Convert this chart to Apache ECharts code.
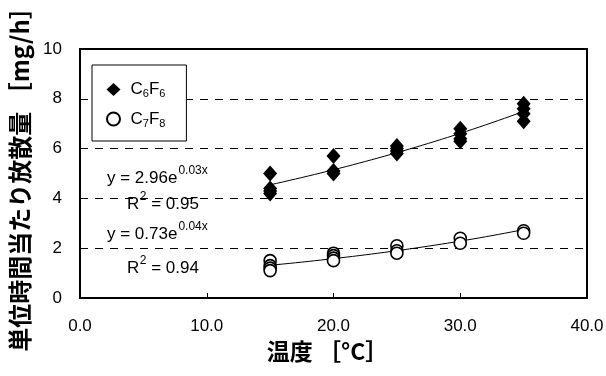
<!DOCTYPE html>
<html>
<head>
<meta charset="utf-8">
<script src="https://cdn.jsdelivr.net/npm/echarts@6/dist/echarts.min.js"></script>
<style>
  html, body { margin: 0; padding: 0; background: #fff; }
  #chart { width: 606px; height: 376px; }
</style>
</head>
<body>
<div id="chart"></div>
<script>
// Emission rate per unit time vs temperature, two compounds
var xTicks = [0, 10, 20, 30, 40];
var yTicks = [0, 2, 4, 6, 8, 10];

var c6f6Temp = [15, 15, 15, 15, 20, 20, 20, 25, 25, 25, 25, 30, 30, 30, 30, 35, 35, 35, 35];
var c6f6Rate = [5.0, 4.4, 4.3, 4.2, 5.7, 5.1, 5.0, 6.1, 6.0, 5.9, 5.8, 6.8, 6.6, 6.4, 6.3, 7.8, 7.6, 7.4, 7.1];

var c7f8Temp = [15, 15, 15, 15, 20, 20, 20, 20, 25, 25, 25, 30, 30, 35, 35];
var c7f8Rate = [1.5, 1.3, 1.2, 1.1, 1.8, 1.7, 1.6, 1.5, 2.1, 1.9, 1.8, 2.4, 2.2, 2.7, 2.6];

// Fitted-curve captions: [main text, superscript]
var eq6 = ['y = 2.96e', '0.03x'];
var r2c6 = ['R', '2', ' = 0.95'];
var eq7 = ['y = 0.73e', '0.04x'];
var r2c7 = ['R', '2', ' = 0.94'];

function pairs(xs, ys) {
  return xs.map(function (x, i) { return [x, ys[i]]; });
}

// Exponential least-squares fit (ln y = ln a + b x), evaluated across the measured range
function expTrend(xs, ys) {
  var n = xs.length, sx = 0, sy = 0, sxx = 0, sxy = 0;
  for (var i = 0; i < n; i++) {
    var ly = Math.log(ys[i]);
    sx += xs[i]; sy += ly; sxx += xs[i] * xs[i]; sxy += xs[i] * ly;
  }
  var b = (n * sxy - sx * sy) / (n * sxx - sx * sx);
  var a = Math.exp((sy - b * sx) / n);
  var lo = Math.min.apply(null, xs), hi = Math.max.apply(null, xs);
  var pts = [];
  for (var k = 0; k <= 40; k++) {
    var x = lo + (hi - lo) * k / 40;
    pts.push([x, a * Math.exp(b * x)]);
  }
  return pts;
}

var sansFont = '"Liberation Sans", Arial, sans-serif';
var cjkFont = '"Noto Sans CJK JP", "Liberation Sans", sans-serif';

function txt(x, y, s, size) {
  return {
    type: 'text', x: x, y: y, z: 10,
    style: { text: s, font: size + 'px ' + sansFont, fill: '#000', align: 'left', verticalAlign: 'middle' }
  };
}

// Equation with superscript exponent, main text starting at x, cap centre at y
function equation(x, y, parts) {
  var ctx = document.createElement('canvas').getContext('2d');
  ctx.font = '17px ' + sansFont;
  var w = ctx.measureText(parts[0]).width;
  return [txt(x, y, parts[0], 17), txt(x + w + 1, y - 7, parts[1], 12)];
}

function rSquared(x, y, parts) {
  var ctx = document.createElement('canvas').getContext('2d');
  ctx.font = '17px ' + sansFont;
  var w = ctx.measureText(parts[0]).width;
  ctx.font = '12px ' + sansFont;
  var w2 = ctx.measureText(parts[1]).width;
  return [txt(x, y, parts[0], 17), txt(x + w + 0.5, y - 7, parts[1], 12), txt(x + w + w2 + 0.5, y, parts[2], 17)];
}

var chart = echarts.init(document.getElementById('chart'), null, { renderer: 'canvas' });

chart.setOption({
  animation: false,
  backgroundColor: '#fff',
  grid: {
    left: 80, right: 19, top: 49, bottom: 78,
    containLabel: false, outerBoundsMode: 'none',
    show: true, borderColor: '#000', borderWidth: 2, backgroundColor: 'transparent'
  },
  legend: {
    left: 92, top: 65,
    orient: 'vertical',
    padding: [16, 21, 12, 14],
    itemGap: 11,
    itemWidth: 14, itemHeight: 13,
    borderColor: '#000', borderWidth: 1,
    backgroundColor: '#fff',
    data: ['C6F6', 'C7F8'],
    formatter: function (name) {
      return name.replace(/(\d)/g, '{sub|$1}').replace(/([A-Z])/g, '{m|$1}');
    },
    textStyle: {
      fontFamily: sansFont, fontSize: 17, color: '#000', padding: [0, 0, 0, 5],
      rich: {
        m: { fontFamily: sansFont, fontSize: 17, color: '#000' },
        sub: { fontFamily: sansFont, fontSize: 11, color: '#000', padding: [9, 0, 0, 0] }
      }
    }
  },
  xAxis: {
    type: 'value', min: 0, max: 40, interval: 10,
    name: '温度 ［°C］', nameLocation: 'middle', nameGap: 41,
    nameTextStyle: { fontFamily: cjkFont, fontSize: 23, fontWeight: 'bold', color: '#000', padding: [0, 12, 0, 0] },
    axisLine: { show: true, lineStyle: { color: '#000', width: 2 } },
    axisTick: { show: true, inside: true, length: 5, lineStyle: { color: '#000' } },
    splitLine: { show: false },
    axisLabel: {
      margin: 20, fontFamily: sansFont, fontSize: 17, color: '#000',
      formatter: function (v) { return xTicks.indexOf(v) >= 0 ? v.toFixed(1) : ''; }
    }
  },
  yAxis: {
    type: 'value', min: 0, max: 10, interval: 2,
    name: '単位時間当たり放散量 ［mg/h］', nameLocation: 'middle', nameGap: 45, nameRotate: 90,
    nameTextStyle: { fontFamily: cjkFont, fontSize: 24, fontWeight: 'bold', color: '#000' },
    axisLine: { show: true, lineStyle: { color: '#000', width: 2 } },
    axisTick: { show: false },
    splitLine: { show: true, lineStyle: { color: '#000', type: [8, 7], width: 1 } },
    axisLabel: {
      margin: 18, fontFamily: sansFont, fontSize: 17, color: '#000',
      formatter: function (v) { return yTicks.indexOf(v) >= 0 ? String(v) : ''; }
    }
  },
  series: [
    {
      name: 'C6F6', type: 'scatter', symbol: 'diamond', symbolSize: [14, 16],
      itemStyle: { color: '#000', opacity: 1 },
      data: pairs(c6f6Temp, c6f6Rate), z: 3
    },
    {
      name: 'C7F8', type: 'scatter', symbol: 'circle', symbolSize: 12,
      itemStyle: { color: '#fff', borderColor: '#000', borderWidth: 1.6, opacity: 1 },
      data: pairs(c7f8Temp, c7f8Rate), z: 3
    },
    {
      name: 'trend6', type: 'line', showSymbol: false, silent: true,
      lineStyle: { color: '#000', width: 1 }, data: expTrend(c6f6Temp, c6f6Rate), z: 2
    },
    {
      name: 'trend7', type: 'line', showSymbol: false, silent: true,
      lineStyle: { color: '#000', width: 1 }, data: expTrend(c7f8Temp, c7f8Rate), z: 2
    }
  ],
  graphic: [].concat(
    equation(107, 178, eq6),
    rSquared(127, 204, r2c6),
    equation(107, 234, eq7),
    rSquared(127, 268, r2c7)
  )
});
</script>
</body>
</html>
